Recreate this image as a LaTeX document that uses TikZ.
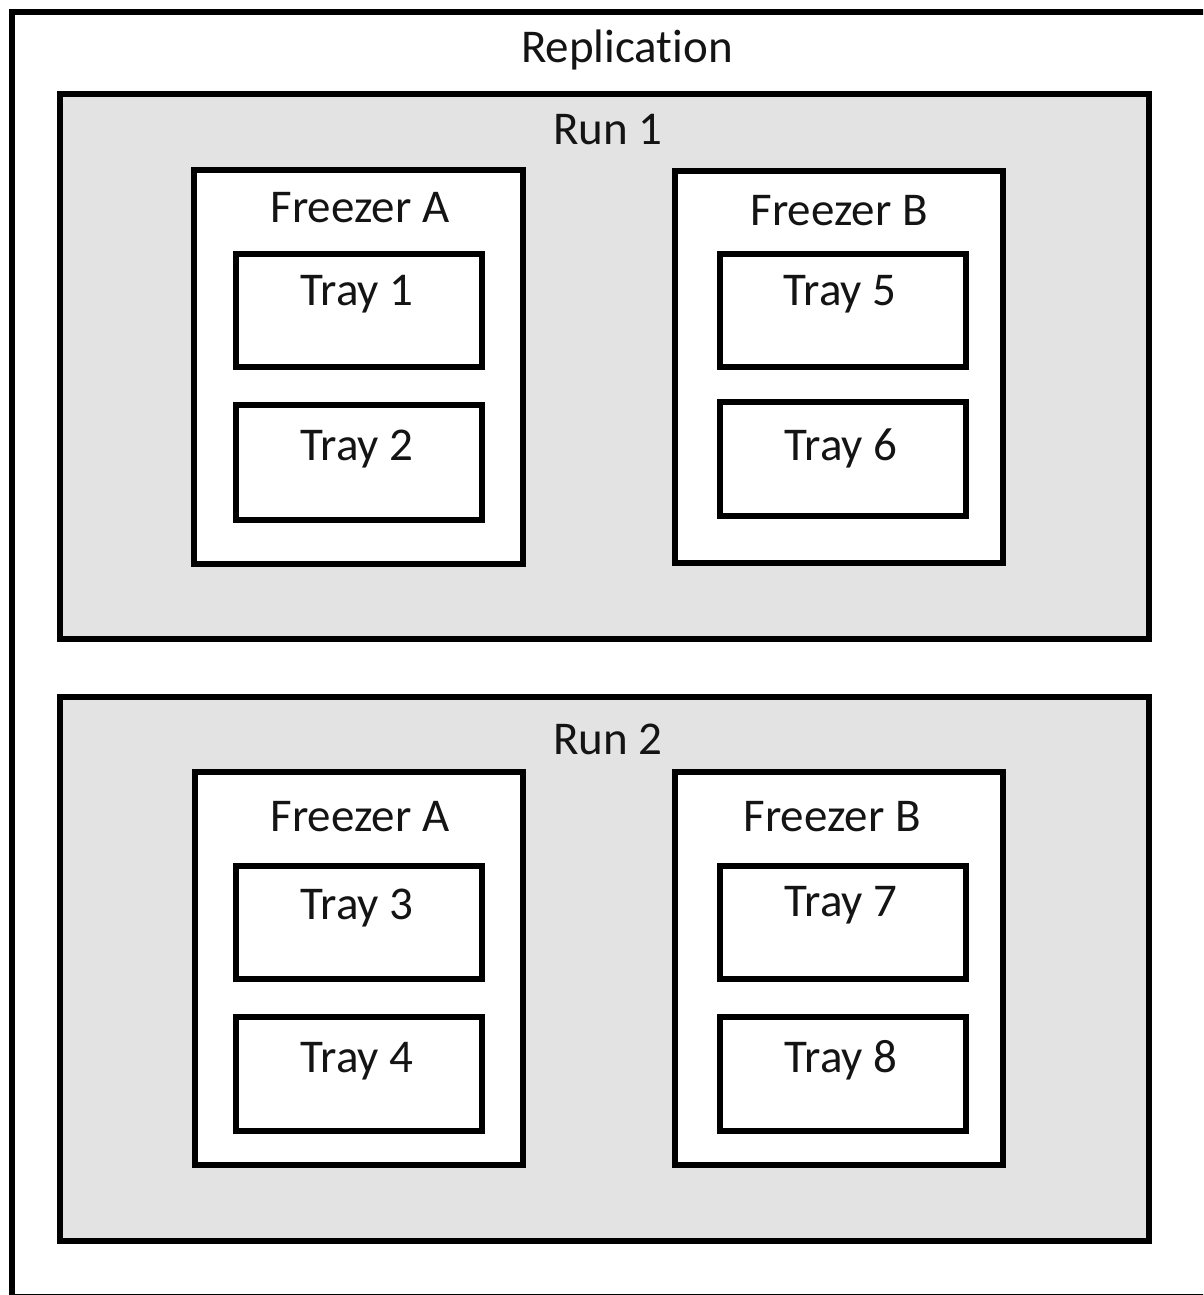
\documentclass[tikz,border=0pt]{standalone}
\usepackage{fontspec}
\setmainfont{Carlito}[RawFeature=-liga]
\begin{document}
\begin{tikzpicture}[x=1pt,y=-1pt,
  frame/.style={draw=black,line width=6pt,inner sep=0pt,outer sep=0pt},
  runbox/.style={frame,fill=runfill},
  boxw/.style={frame,fill=white},
  lbl/.style={anchor=base,inner sep=0pt,text=textcol,font=\fontsize{47}{52}\selectfont}]
\definecolor{runfill}{HTML}{E4E3E4}
\definecolor{textcol}{HTML}{141414}
% page area
\clip (0,0) rectangle (1203,1295);
\fill[white] (0,0) rectangle (1203,1295);

% outer frame (runs past the right and bottom edges)
\node[frame,fill=white,minimum width=1203.5pt,minimum height=1285pt] (repl) at (613.25,654.5) {};
\node[lbl] (t-repl) at (627,63) {Replication};

% run boxes
\node[runbox,minimum width=1089pt,minimum height=545pt] (run1) at (604.5,366.5) {};
\node[runbox,minimum width=1089pt,minimum height=544pt] (run2) at (604.5,969) {};
\node[lbl] (t-run1) at (608,145) {Run 1};
\node[lbl] (t-run2) at (608,754) {Run 2};

% freezers
\node[boxw,minimum width=329pt,minimum height=394pt] (fa1) at (358.5,367) {};
\node[boxw,minimum width=328pt,minimum height=392pt] (fb1) at (839,367) {};
\node[boxw,minimum width=328pt,minimum height=393pt] (fa2) at (358.5,968.5) {};
\node[boxw,minimum width=328pt,minimum height=393pt] (fb2) at (839,968.5) {};
\node[lbl] (t-fa1) at (360,222) {Freezer A};
\node[lbl] (t-fb1) at (839,225) {Freezer B};
\node[lbl] (t-fa2) at (360,831) {Freezer A};
\node[lbl] (t-fb2) at (832,831) {Freezer B};

% trays
\node[boxw,minimum width=246pt,minimum height=113pt] (tr1) at (359,310.5) {};
\node[boxw,minimum width=246pt,minimum height=115pt] (tr2) at (359,462.5) {};
\node[boxw,minimum width=246pt,minimum height=113pt] (tr5) at (842.5,310.5) {};
\node[boxw,minimum width=246pt,minimum height=114pt] (tr6) at (842.5,459) {};
\node[boxw,minimum width=246pt,minimum height=113pt] (tr3) at (359,922) {};
\node[boxw,minimum width=246pt,minimum height=114pt] (tr4) at (359,1074) {};
\node[boxw,minimum width=246pt,minimum height=113pt] (tr7) at (842.5,922) {};
\node[boxw,minimum width=246pt,minimum height=114pt] (tr8) at (842.5,1074) {};
\node[lbl] (t-tr1) at (357,305) {Tray 1};
\node[lbl] (t-tr2) at (357,460) {Tray 2};
\node[lbl] (t-tr5) at (840,305) {Tray 5};
\node[lbl] (t-tr6) at (841,460) {Tray 6};
\node[lbl] (t-tr3) at (357,919) {Tray 3};
\node[lbl] (t-tr4) at (357,1072) {Tray 4};
\node[lbl] (t-tr7) at (841,916) {Tray 7};
\node[lbl] (t-tr8) at (841,1072) {Tray 8};
\end{tikzpicture}
\end{document}
